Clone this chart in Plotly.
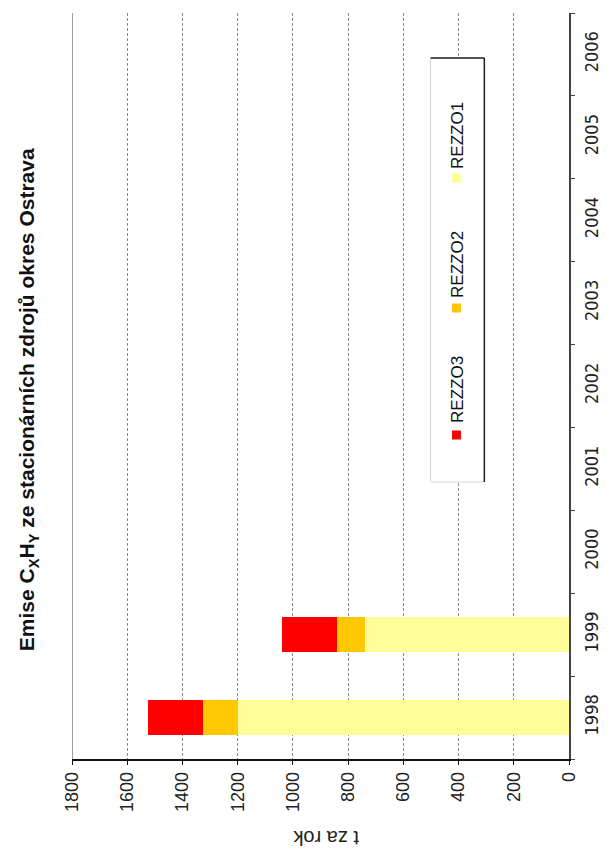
import plotly.graph_objects as go

# Category axis (years) and emission values per source group, t/yr
years = ["1998", "1999", "2000", "2001", "2002", "2003", "2004", "2005", "2006"]
data_years = ["1998", "1999"]
rezzo1 = [1200, 740]
rezzo2 = [125, 100]
rezzo3 = [200, 200]
value_ticks = [0, 200, 400, 600, 800, 1000, 1200, 1400, 1600, 1800]

title_html = "<b>Emise C<sub>X</sub>H<sub>Y</sub> ze stacionárních zdrojů okres Ostrava</b>"
axis_title = "t za rok"

colors = {"REZZO1": "#FFFF99", "REZZO2": "#FFC800", "REZZO3": "#FF0000"}

W, H = 614, 850
L, R, T, B = 72, 43, 13, 91
PW, PH = W - L - R, H - T - B


def px(x):
    return (x - L) / PW


def py(y):
    return (H - B - y) / PH


fig = go.Figure()
for name, vals in (("REZZO1", rezzo1), ("REZZO2", rezzo2), ("REZZO3", rezzo3)):
    fig.add_trace(go.Bar(
        y=data_years, x=vals, orientation="h", name=name,
        marker=dict(color=colors[name], line=dict(width=0)),
        showlegend=False,
    ))

fig.update_layout(
    width=W, height=H,
    margin=dict(l=L, r=R, t=T, b=B),
    paper_bgcolor="white", plot_bgcolor="white",
    barmode="stack", bargap=0.58,
    font=dict(family="Liberation Sans, Arial, sans-serif", color="#222"),
    xaxis=dict(
        range=[1800, 0], tickvals=value_ticks, tickangle=-90,
        tickfont=dict(size=18, color="#222"),
        showgrid=True, gridcolor="#8a8a8a", gridwidth=1, griddash="3px,2px",
        showline=True, linecolor="#111", linewidth=1.5,
        ticks="outside", ticklen=4, tickcolor="#111",
        zeroline=False, fixedrange=True,
    ),
    yaxis=dict(
        type="category", categoryorder="array", categoryarray=years,
        tickvals=years, range=[-0.5, len(years) - 0.5],
        side="right", tickangle=-90,
        tickfont=dict(size=18, family="Liberation Sans Narrow, DejaVu Sans Condensed, Liberation Sans", color="#222"),
        showgrid=False, showline=True, linecolor="#444", linewidth=1.5,
        ticks="outside", ticklen=4, tickcolor="#444", tickson="boundaries",
        ticklabelstandoff=6, zeroline=False,
    ),
)

shapes = []
# solid border at the maximum of the value axis
shapes.append(dict(type="line", xref="x", yref="paper", x0=1800, x1=1800, y0=0, y1=1,
                   line=dict(color="#808080", width=1.5)))

# legend frame with shadowed edges
lx0, lx1, ly0, ly1 = 432, 486, 58, 482
shapes.append(dict(type="rect", xref="paper", yref="paper",
                   x0=px(lx0), x1=px(lx1), y0=py(ly1), y1=py(ly0),
                   line=dict(color="#d8d8d8", width=1), fillcolor="white"))
shapes.append(dict(type="line", xref="paper", yref="paper",
                   x0=px(lx0), x1=px(lx1), y0=py(ly0), y1=py(ly0),
                   line=dict(color="#222", width=1.5)))
shapes.append(dict(type="line", xref="paper", yref="paper",
                   x0=px(lx1), x1=px(lx1), y0=py(ly0), y1=py(ly1),
                   line=dict(color="#222", width=1.5)))

annotations = []
legend_items = [("REZZO3", 435, 389), ("REZZO2", 308, 264), ("REZZO1", 178, 135)]
mx = 458
for name, my, ty in legend_items:
    s = 4.5
    shapes.append(dict(type="rect", xref="paper", yref="paper",
                       x0=px(mx - s), x1=px(mx + s), y0=py(my + s), y1=py(my - s),
                       line=dict(width=0), fillcolor=colors[name]))
    annotations.append(dict(text=name, xref="paper", yref="paper",
                            x=px(458.5), y=py(ty), textangle=-90,
                            showarrow=False, xanchor="center", yanchor="middle",
                            font=dict(size=17, color="#111")))

annotations.append(dict(text=title_html, xref="paper", yref="paper",
                        x=px(28), y=py(400), textangle=-90, showarrow=False,
                        xanchor="center", yanchor="middle",
                        font=dict(size=21, color="#111")))
annotations.append(dict(text=axis_title, xref="paper", yref="paper",
                        x=px(326), y=py(838), textangle=180, showarrow=False,
                        xanchor="center", yanchor="middle",
                        font=dict(size=20, color="#222")))

fig.update_layout(shapes=shapes, annotations=annotations)
fig.write_html("out.html")
